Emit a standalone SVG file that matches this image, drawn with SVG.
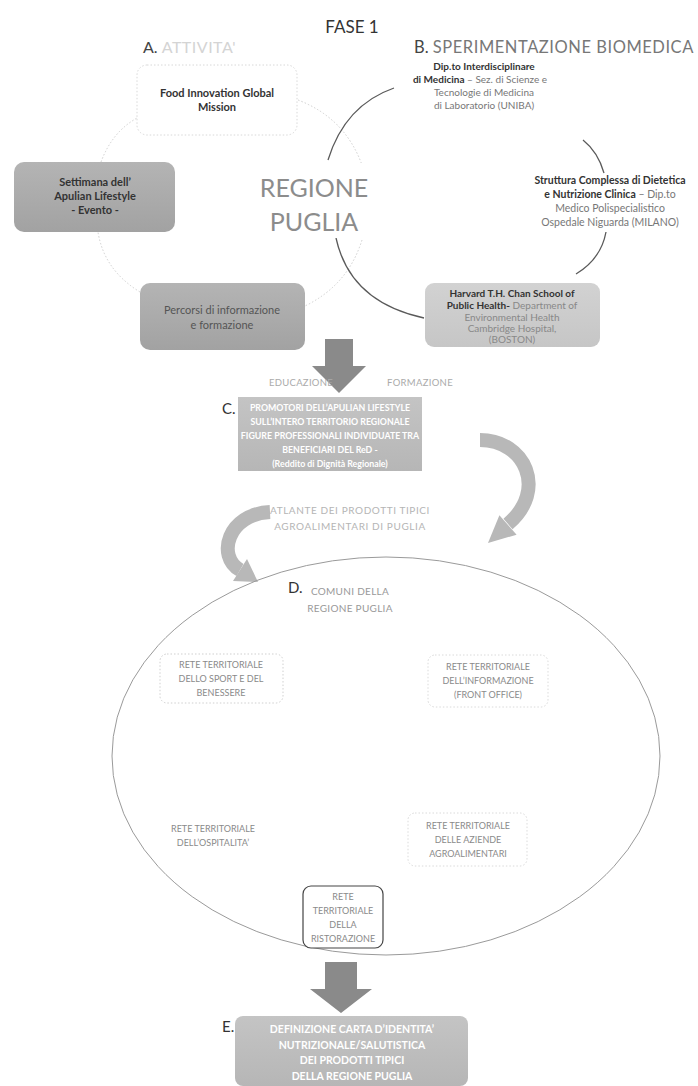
<svg xmlns="http://www.w3.org/2000/svg" width="698" height="1086" viewBox="0 0 698 1086">
<defs>
<linearGradient id="gDark" x1="0" y1="0" x2="0" y2="1"><stop offset="0" stop-color="#b4b4b4"/><stop offset="1" stop-color="#a2a2a2"/></linearGradient>
<linearGradient id="gMid" x1="0" y1="0" x2="0" y2="1"><stop offset="0" stop-color="#c4c4c4"/><stop offset="1" stop-color="#b6b6b6"/></linearGradient>
<linearGradient id="gLight" x1="0" y1="0" x2="0" y2="1"><stop offset="0" stop-color="#d2d2d2"/><stop offset="1" stop-color="#c6c6c6"/></linearGradient>
<style>
text{font-family:Lato,"Open Sans","Liberation Sans",sans-serif;text-anchor:middle}
.hd{font-size:16px;fill:#444;text-anchor:start}
.bold{font-weight:bold;fill:#333}
.sm{font-size:10px;fill:#777}
.wt{font-size:8.8px;font-weight:bold;fill:#fff}
.we{font-size:10.5px;font-weight:bold;fill:#fff}
.lt{font-size:9.5px;fill:#aaa;letter-spacing:0.3px}
.rt{font-size:9px;fill:#8a8a8a}
.dotc{fill:none;stroke:#cfcfcf;stroke-width:1;stroke-dasharray:1.5 2}
.solc{fill:none;stroke:#5a5a5a;stroke-width:1.3}
</style>
</defs>
<rect width="698" height="1086" fill="#fff"/>

<!-- Headings -->
<text x="352" y="33" style="font-size:17px;fill:#333">FASE 1</text>
<text x="143" y="53" class="hd">A. <tspan fill="#d4d4d4" letter-spacing="0.5">ATTIVITA'</tspan></text>
<text x="414" y="53" class="hd" style="font-size:16.5px">B. <tspan fill="#777" letter-spacing="0.55">SPERIMENTAZIONE BIOMEDICA</tspan></text>

<!-- connectors -->
<g id="connectors">
  <!-- cycle A (dotted) -->
  <path class="dotc" d="M298,100 Q345,118 362,165"/>
  <path class="dotc" d="M362,240 Q348,285 305,306"/>
  <path class="dotc" d="M140,292 Q104,270 98,232"/>
  <path class="dotc" d="M101,162 Q112,132 137,118"/>
  <!-- cycle B (solid) -->
  <path class="solc" d="M394,88 Q345,105 328,160"/>
  <path class="solc" d="M336,238 Q350,302 424,318"/>
  <path class="solc" d="M583,140 Q598,152 604,173"/>
  <path class="solc" d="M606,232 Q601,259 576,274"/>
  <!-- down arrow 1 -->
  <path d="M325,339 L353,339 L353,366 L366,366 L339,393 L312,366 L325,366 Z" fill="#8a8a8a"/>
  <!-- right curved arrow -->
  <path d="M480,440 C525,440 548,490 508,524" fill="none" stroke="#b8b8b8" stroke-width="14"/>
  <path d="M516.6,534.7 L488,543 L499.4,515.3 Z" fill="#b8b8b8"/>
  <!-- left curved arrow -->
  <path d="M270,512 C228,514 216,556 240,570" fill="none" stroke="#b8b8b8" stroke-width="14"/>
  <path d="M233,581 L258,582 L247,559 Z" fill="#b8b8b8"/>
  <!-- down arrow 2 -->
  <path d="M325,962 L357,962 L357,989 L372,989 L341,1013 L310,989 L325,989 Z" fill="#8a8a8a"/>
</g>

<!-- A nodes -->
<g id="food">
  <rect x="137" y="65" width="160" height="70" rx="10" fill="#fff" stroke="#d8d8d8" stroke-dasharray="1.5 2"/>
  <text x="217" y="97" style="font-size:11px" class="bold">Food Innovation Global</text>
  <text x="217" y="111" style="font-size:11px" class="bold">Mission</text>
</g>
<g id="settimana">
  <rect x="14" y="162" width="161" height="70" rx="10" fill="url(#gDark)"/>
  <text x="95" y="186" style="font-size:11px" class="bold">Settimana dell’</text>
  <text x="95" y="200" style="font-size:11px" class="bold">Apulian Lifestyle</text>
  <text x="95" y="214" style="font-size:11px" class="bold">- Evento -</text>
</g>
<g id="percorsi">
  <rect x="140" y="283" width="165" height="67" rx="10" fill="url(#gDark)"/>
  <text x="222" y="314" style="font-size:11px;fill:#555">Percorsi di informazione</text>
  <text x="222" y="329" style="font-size:11px;fill:#555">e formazione</text>
</g>
<g id="regione">
  <rect x="254" y="163" width="122" height="75" fill="#fff"/>
  <text x="314" y="197" style="font-size:25px;fill:#8c8c8c">REGIONE</text>
  <text x="314" y="231" style="font-size:25px;fill:#8c8c8c">PUGLIA</text>
</g>

<!-- B nodes -->
<g id="uniba">
  <text x="484" y="70" style="font-size:10px" class="bold">Dip.to Interdisciplinare</text>
  <text x="480" y="83" class="sm"><tspan class="bold">di Medicina</tspan> – Sez. di Scienze e</text>
  <text x="484" y="96" class="sm">Tecnologie di Medicina</text>
  <text x="484" y="109" class="sm">di Laboratorio (UNIBA)</text>
</g>
<g id="niguarda">
  <text x="610" y="184" style="font-size:10.5px" class="bold">Struttura Complessa di Dietetica</text>
  <text x="610" y="198" class="sm" style="font-size:10.5px"><tspan class="bold">e Nutrizione Clinica</tspan> – Dip.to</text>
  <text x="610" y="212" class="sm" style="font-size:10.5px">Medico Polispecialistico</text>
  <text x="610" y="226" class="sm" style="font-size:10.5px">Ospedale Niguarda (MILANO)</text>
</g>
<g id="harvard">
  <rect x="425" y="283" width="175" height="64" rx="9" fill="url(#gLight)"/>
  <text x="512" y="297" style="font-size:10px" class="bold">Harvard T.H. Chan School of</text>
  <text x="512" y="309" class="sm" style="fill:#888"><tspan class="bold">Public Health-</tspan> Department of</text>
  <text x="512" y="321" class="sm" style="fill:#888">Environmental Health</text>
  <text x="512" y="332" class="sm" style="fill:#888">Cambridge Hospital,</text>
  <text x="512" y="343" class="sm" style="fill:#888">(BOSTON)</text>
</g>

<!-- labels between -->
<g id="edu-form">
  <text x="301" y="386" class="lt">EDUCAZIONE</text>
  <text x="420" y="386" class="lt">FORMAZIONE</text>
</g>

<!-- C -->
<g id="promotori">
  <text x="222" y="414" class="hd" style="font-size:15px;fill:#333">C.</text>
  <rect x="238" y="397" width="184" height="74" fill="url(#gMid)"/>
  <text x="330" y="411" class="wt">PROMOTORI DELL’APULIAN LIFESTYLE</text>
  <text x="330" y="425" class="wt">SULL’INTERO TERRITORIO REGIONALE</text>
  <text x="330" y="439" class="wt">FIGURE PROFESSIONALI INDIVIDUATE TRA</text>
  <text x="330" y="453" class="wt">BENEFICIARI DEL ReD -</text>
  <text x="330" y="467" class="wt">(Reddito di Dignità Regionale)</text>
</g>

<g id="atlante">
  <text x="350" y="514" class="lt" style="font-size:10px;letter-spacing:0.6px;fill:#b5b5b5">ATLANTE DEI PRODOTTI TIPICI</text>
  <text x="350" y="530" class="lt" style="font-size:10px;letter-spacing:0.6px;fill:#b5b5b5">AGROALIMENTARI DI PUGLIA</text>
</g>

<!-- D -->
<g id="comuni">
  <ellipse cx="386" cy="756" rx="274" ry="199" fill="none" stroke="#9a9a9a" stroke-width="1"/>
  <text x="288" y="593" class="hd" style="font-size:15px;fill:#333">D.</text>
  <text x="350" y="595" class="lt" style="font-size:10px;fill:#999">COMUNI DELLA</text>
  <text x="350" y="612" class="lt" style="font-size:10px;fill:#999">REGIONE PUGLIA</text>
</g>
<g id="sport">
  <rect x="160" y="654" width="123" height="49" rx="7" fill="#fff" stroke="#cfcfcf" stroke-dasharray="1.5 2"/>
  <text x="221" y="668" class="rt">RETE TERRITORIALE</text>
  <text x="221" y="682" class="rt">DELLO SPORT E DEL</text>
  <text x="221" y="696" class="rt">BENESSERE</text>
</g>
<g id="informazione">
  <rect x="428" y="655" width="120" height="52" rx="7" fill="#fff" stroke="#dadada" stroke-dasharray="1.5 2"/>
  <text x="488" y="670" class="rt">RETE TERRITORIALE</text>
  <text x="488" y="684" class="rt">DELL’INFORMAZIONE</text>
  <text x="488" y="698" class="rt">(FRONT OFFICE)</text>
</g>
<g id="ospitalita">
  <text x="213" y="832" class="rt">RETE TERRITORIALE</text>
  <text x="213" y="846" class="rt">DELL’OSPITALITA’</text>
</g>
<g id="aziende">
  <rect x="408" y="813" width="119" height="53" rx="7" fill="#fff" stroke="#dadada" stroke-dasharray="1.5 2"/>
  <text x="468" y="829" class="rt">RETE TERRITORIALE</text>
  <text x="468" y="843" class="rt">DELLE AZIENDE</text>
  <text x="468" y="857" class="rt">AGROALIMENTARI</text>
</g>
<g id="ristorazione">
  <rect x="303" y="886" width="80" height="62" rx="8" fill="#fff" stroke="#444" stroke-width="1.2"/>
  <text x="343" y="900" class="rt">RETE</text>
  <text x="343" y="914" class="rt">TERRITORIALE</text>
  <text x="343" y="928" class="rt">DELLA</text>
  <text x="343" y="942" class="rt">RISTORAZIONE</text>
</g>

<!-- E -->
<g id="carta">
  <text x="222" y="1032" class="hd" style="font-size:15px;fill:#333">E.</text>
  <rect x="235" y="1016" width="233" height="70" rx="8" fill="url(#gMid)"/>
  <text x="352" y="1033" class="we">DEFINIZIONE CARTA D’IDENTITA’</text>
  <text x="352" y="1049" class="we">NUTRIZIONALE/SALUTISTICA</text>
  <text x="352" y="1064" class="we">DEI PRODOTTI TIPICI</text>
  <text x="352" y="1080" class="we">DELLA REGIONE PUGLIA</text>
</g>
</svg>
